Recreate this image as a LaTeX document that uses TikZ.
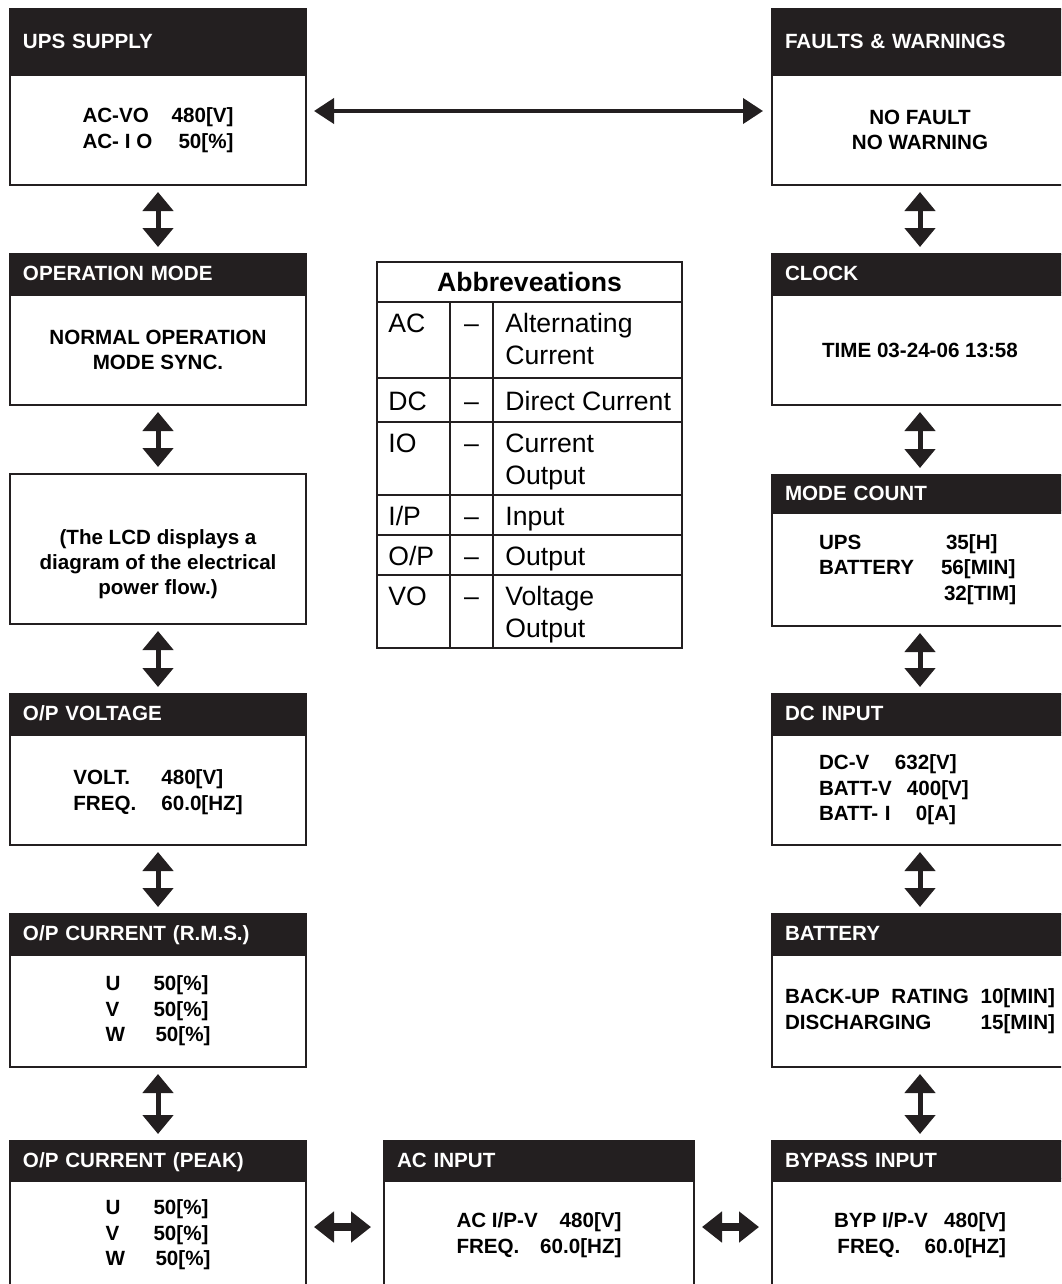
\documentclass[tikz,border=0pt]{standalone}
\usepackage{fontspec}
\setmainfont{Liberation Sans}
\usetikzlibrary{arrows.meta,positioning}
\definecolor{ink}{HTML}{231F20}
\newcommand{\scrfont}{\fontsize{10.3}{12.7}\selectfont\bfseries}
\newcommand{\tabfont}{\fontsize{13.3}{16}\selectfont}

\begin{document}
\begin{tikzpicture}[x=0.5pt,y=-0.5pt,
  hdr/.style={anchor=north west,fill=ink,draw=ink,line width=1pt,text=white,
    font=\scrfont,minimum width=148pt,text width=135pt,inner xsep=6.5pt,
    inner ysep=0pt,align=left,minimum height=19.5pt,
    text height=7.4pt,text depth=0pt},
  scr/.style={draw=ink,fill=white,line width=1pt,font=\scrfont,
    minimum width=148pt,inner sep=0pt,align=center},
  vlink/.style={draw=ink,line width=2.5pt,shorten <=3pt,shorten >=3pt,
    {Triangle[width=15pt,length=9.5pt]}-{Triangle[width=15pt,length=9.5pt]}},
  hlink/.style={draw=ink,line width=4pt,shorten <=3.5pt,shorten >=6pt,
    {Triangle[width=15pt,length=10pt]}-{Triangle[width=15pt,length=10pt]}},
  toplink/.style={draw=ink,line width=2pt,shorten <=3.5pt,shorten >=4pt,
    {Triangle[width=12.5pt,length=10pt]}-{Triangle[width=12.5pt,length=10pt]}},
  tabline/.style={draw=ink,line width=0.65pt},
  abbr/.style={font=\tabfont,inner sep=0pt}]
\useasboundingbox (0,0) rectangle (1061,1284);
\clip (0,0) rectangle (1061,1284);

% left column
\node[hdr,minimum height=32pt] (upsh) at (9,8) {UPS SUPPLY};
\node[scr,minimum height=55pt,below=0pt of upsh] (ups)
  {\makebox[75.5pt]{AC-VO\hfill 480[V]}\\\makebox[75.5pt]{AC- I O\hfill 50[\%]}};
\node[hdr] (modeh) at (9,253) {OPERATION MODE};
\node[scr,minimum height=55pt,below=0pt of modeh] (mode)
  {NORMAL OPERATION\\MODE SYNC.};
\node[scr,anchor=north west,minimum height=75pt] (lcd) at (9,473)
  {\mbox{}\\[10pt](The LCD displays a\\diagram of the electrical\\power flow.)};
\node[hdr] (vouth) at (9,693) {O/P VOLTAGE};
\node[scr,minimum height=55pt,below=0pt of vouth,align=left] (vout)
  {\mbox{}\\[-3pt]\makebox[44pt][l]{VOLT.}480[V]\\\makebox[44pt][l]{FREQ.}60.0[HZ]};
\node[hdr] (irmsh) at (9,913) {O/P CURRENT (R.M.S.)};
\node[scr,minimum height=56pt,below=0pt of irmsh,align=left] (irms)
  {\makebox[24pt][l]{U}50[\%]\\\makebox[24pt][l]{V}50[\%]\\\makebox[25pt][l]{W}50[\%]};
\node[hdr,minimum height=19pt] (ipkh) at (9,1140) {O/P CURRENT (PEAK)};
\node[scr,minimum height=54pt,below=0pt of ipkh,align=left] (ipk)
  {\makebox[24pt][l]{U}50[\%]\\\makebox[24pt][l]{V}50[\%]\\\makebox[25pt][l]{W}50[\%]};

% middle
\node[hdr,minimum height=19pt,minimum width=155pt,text width=142pt] (acinh) at (383,1140) {AC INPUT};
\node[scr,minimum height=54pt,minimum width=155pt,below=0pt of acinh] (acin)
  {\makebox[82.5pt]{AC I/P-V\hfill 480[V]}\\\makebox[82.5pt]{FREQ.\hfill 60.0[HZ]}};

% right column
\node[hdr,minimum height=32pt] (flth) at (771,8) {FAULTS \& WARNINGS};
\node[scr,minimum height=55pt,below=0pt of flth] (flt) {NO FAULT\\NO WARNING};
\node[hdr] (clkh) at (771,253) {CLOCK};
\node[scr,minimum height=55pt,below=0pt of clkh] (clk) {TIME 03-24-06 13:58};
\node[hdr,minimum height=18pt] (cnth) at (771,474) {MODE COUNT};
\node[scr,minimum height=56.5pt,below=0pt of cnth,text width=101pt,align=left] (cnt)
  {\makebox[63.5pt][l]{UPS}35[H]\\\makebox[61pt][l]{BATTERY}56[MIN]\\\hspace*{62.5pt}32[TIM]};
\node[hdr] (dcinh) at (771,693) {DC INPUT};
\node[scr,minimum height=55pt,below=0pt of dcinh,text width=101pt,align=left] (dcin)
  {\makebox[38pt][l]{DC-V}632[V]\\\makebox[44pt][l]{BATT-V}400[V]\\\makebox[48.5pt][l]{BATT- I}0[A]};
\node[hdr] (batth) at (771,913) {BATTERY};
\node[scr,minimum height=56pt,below=0pt of batth] (batt)
  {\makebox[135pt]{BACK-UP\ \ RATING\hfill 10[MIN]}\\\makebox[135pt]{DISCHARGING\hfill 15[MIN]}};
\node[hdr,minimum height=19pt] (byph) at (771,1140) {BYPASS INPUT};
\node[scr,minimum height=54pt,below=0pt of byph] (byp)
  {\makebox[86pt]{BYP I/P-V\hfill 480[V]}\\\makebox[86pt]{\,FREQ.\hfill 60.0[HZ]}};

% links
\draw[toplink] ([yshift=9.5pt]ups.east) -- ([yshift=9.5pt]flt.west);
\draw[vlink] (ups) -- (modeh);
\draw[vlink] (mode) -- (lcd);
\draw[vlink] (lcd) -- (vouth);
\draw[vlink] (vout) -- (irmsh);
\draw[vlink] (irms) -- (ipkh);
\draw[vlink] (flt) -- (clkh);
\draw[vlink] (clk) -- (cnth);
\draw[vlink] (cnt) -- (dcinh);
\draw[vlink] (dcin) -- (batth);
\draw[vlink] (batt) -- (byph);
\draw[hlink] ([yshift=4pt]ipk.east) -- ([yshift=4pt]acin.west);
\draw[hlink] ([yshift=4pt]acin.east) -- ([yshift=4pt]byp.west);

% abbreviation table
\draw[tabline] (377,262) rectangle (682,648);
\foreach \y in {302,378,422,495,535,575}
  \draw[tabline] (377,\y) -- (682,\y);
\draw[tabline] (450,302) -- (450,648) (493,302) -- (493,648);
\node[abbr,font=\tabfont\bfseries] (abbrt) at (529.5,282) {Abbreveations};
\foreach \k/\a/\b/\y [count=\i] in {AC/Alternating/Current/332,
    DC/Direct Current//410, IO/Current/Output/452, {I/P}/Input//525,
    {O/P}/Output//565, VO/Voltage/Output/605}{
  \node[abbr,anchor=base west] (key\i) at (388,\y) {\k};
  \node[abbr,anchor=base] (dash\i) at (471.5,\y) {\textendash};
  \node[abbr,anchor=base west] (txta\i) at (505,\y) {\a};
  \node[abbr,anchor=base west] (txtb\i) at (505,{\y+32}) {\b};
}
\end{tikzpicture}
\end{document}
